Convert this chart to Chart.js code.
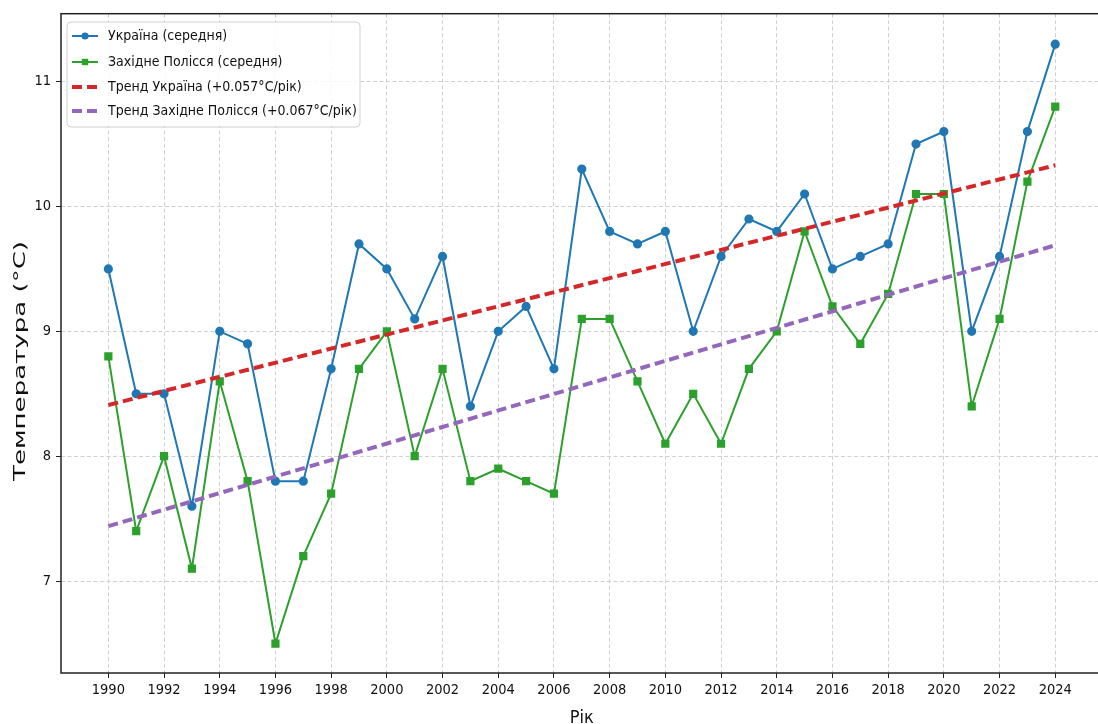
<!DOCTYPE html>
<html>
<head>
<meta charset="utf-8">
<script src="https://cdn.jsdelivr.net/npm/chart.js@4.4.1/dist/chart.umd.min.js"></script>
<style>
  html, body { margin: 0; padding: 0; background: #fff; overflow: hidden; }
  #c { display: block; }
</style>
</head>
<body>
<canvas id="c" width="1109" height="730"></canvas>
<script>
// Роки та середні температури
const years = [1990, 1991, 1992, 1993, 1994, 1995, 1996, 1997, 1998, 1999,
               2000, 2001, 2002, 2003, 2004, 2005, 2006, 2007, 2008, 2009,
               2010, 2011, 2012, 2013, 2014, 2015, 2016, 2017, 2018, 2019,
               2020, 2021, 2022, 2023, 2024];
const ukraine = [9.5, 8.5, 8.5, 7.6, 9.0, 8.9, 7.8, 7.8, 8.7, 9.7,
                 9.5, 9.1, 9.6, 8.4, 9.0, 9.2, 8.7, 10.3, 9.8, 9.7,
                 9.8, 9.0, 9.6, 9.9, 9.8, 10.1, 9.5, 9.6, 9.7, 10.5,
                 10.6, 9.0, 9.6, 10.6, 11.3];
const polissia = [8.8, 7.4, 8.0, 7.1, 8.6, 7.8, 6.5, 7.2, 7.7, 8.7,
                  9.0, 8.0, 8.7, 7.8, 7.9, 7.8, 7.7, 9.1, 9.1, 8.6,
                  8.1, 8.5, 8.1, 8.7, 9.0, 9.8, 9.2, 8.9, 9.3, 10.1,
                  10.1, 8.4, 9.1, 10.2, 10.8];

// Тренди (кінцеві точки)
const trendYears = [1990, 2024];
const trendUkraine = [8.41, 10.33];
const trendPolissia = [7.44, 9.69];

// Підписи
const labels = ['Україна (середня)', 'Західне Полісся (середня)',
                'Тренд Україна (+0.057°C/рік)', 'Тренд Західне Полісся (+0.067°C/рік)'];
const xTicks = [1990, 1992, 1994, 1996, 1998, 2000, 2002, 2004, 2006, 2008,
                2010, 2012, 2014, 2016, 2018, 2020, 2022, 2024];
const yTicks = [7, 8, 9, 10, 11];
const xTitle = 'Рік';
const yTitle = 'Температура (°C)';

const narrow = "'DejaVu Sans Condensed', 'Liberation Sans Narrow', 'DejaVu Sans', sans-serif";

const pts = (xs, ys) => xs.map((x, i) => ({ x: x, y: ys[i] }));

// рамка, легенда, підпис осі Y
const extras = {
    id: 'extras',
    afterDraw(chart) {
        const ctx = chart.ctx;
        const a = chart.chartArea;
        ctx.save();
        ctx.strokeStyle = '#222';
        ctx.lineWidth = 1.5;
        ctx.strokeRect(a.left, a.top, a.right - a.left, a.bottom - a.top);

        // легенда
        const bx = 67, by = 22, bw = 293, bh = 105;
        ctx.beginPath();
        ctx.roundRect(bx, by, bw, bh, 4);
        ctx.fillStyle = 'rgba(255,255,255,0.85)';
        ctx.fill();
        ctx.strokeStyle = '#d0d0d0';
        ctx.lineWidth = 1;
        ctx.stroke();
        const rows = [36, 62, 87, 111];
        chart.data.datasets.forEach((ds, i) => {
            const y = rows[i];
            ctx.save();
            ctx.strokeStyle = ds.borderColor;
            ctx.lineWidth = ds.borderWidth;
            ctx.setLineDash(ds.borderDash || []);
            ctx.beginPath();
            ctx.moveTo(72, y);
            ctx.lineTo(98, y);
            ctx.stroke();
            ctx.restore();
            if (ds.pointRadius > 0) {
                ctx.fillStyle = ds.borderColor;
                if (ds.pointStyle === 'rect') {
                    ctx.fillRect(85 - 3.2, y - 3.2, 6.4, 6.4);
                } else {
                    ctx.beginPath();
                    ctx.arc(85, y, 3.6, 0, Math.PI * 2);
                    ctx.fill();
                }
            }
            ctx.fillStyle = '#111';
            ctx.font = '14px ' + narrow;
            ctx.textBaseline = 'middle';
            ctx.textAlign = 'left';
            ctx.fillText(ds.label, 108, y);
        });

        // підпис осі Y
        ctx.font = '15px "DejaVu Sans", sans-serif';
        const w = ctx.measureText(yTitle).width;
        ctx.translate(25, 361);
        ctx.rotate(-Math.PI / 2);
        ctx.scale(240 / w, 1);
        ctx.fillStyle = '#111';
        ctx.textAlign = 'center';
        ctx.textBaseline = 'alphabetic';
        ctx.fillText(yTitle, 0, 0);
        ctx.restore();
    }
};

new Chart(document.getElementById('c'), {
    type: 'line',
    data: {
        datasets: [{
            label: labels[0],
            data: pts(years, ukraine),
            borderColor: '#1f77b4',
            backgroundColor: '#1f77b4',
            borderWidth: 2,
            pointRadius: 3.6,
            pointStyle: 'circle',
            order: 4
        }, {
            label: labels[1],
            data: pts(years, polissia),
            borderColor: '#2ca02c',
            backgroundColor: '#2ca02c',
            borderWidth: 2,
            pointRadius: 4.4,
            pointStyle: 'rect',
            order: 3
        }, {
            label: labels[2],
            data: pts(trendYears, trendUkraine),
            borderColor: '#d62728',
            borderWidth: 4,
            borderDash: [10, 5],
            pointRadius: 0,
            order: 2
        }, {
            label: labels[3],
            data: pts(trendYears, trendPolissia),
            borderColor: '#9467bd',
            borderWidth: 4,
            borderDash: [10, 5],
            pointRadius: 0,
            order: 1
        }]
    },
    options: {
        responsive: false,
        animation: false,
        devicePixelRatio: 1,
        layout: { padding: { left: 0, top: 13, right: 0, bottom: 0 } },
        plugins: {
            legend: { display: false },
            tooltip: { enabled: false }
        },
        elements: { line: { tension: 0, fill: false } },
        scales: {
            x: {
                type: 'linear',
                min: 1988.3,
                max: 2025.7,
                afterBuildTicks: s => { s.ticks = xTicks.map(v => ({ value: v })); },
                afterFit: s => { s.height = 57; },
                grid: {
                    color: '#d0d0d0',
                    tickColor: '#222',
                    tickLength: 5,
                    tickBorderDash: []
                },
                border: { display: false, dash: [4, 2.5] },
                ticks: {
                    color: '#111',
                    font: { family: narrow, size: 14.5 },
                    padding: 4,
                    maxRotation: 0,
                    autoSkip: false,
                    callback: v => String(v)
                },
                title: {
                    display: true,
                    text: xTitle,
                    color: '#111',
                    font: { family: narrow, size: 18 },
                    padding: { top: 0, bottom: 1 }
                }
            },
            y: {
                min: 6.264,
                max: 11.544,
                afterBuildTicks: s => { s.ticks = yTicks.map(v => ({ value: v })); },
                afterFit: s => { s.width = 61; },
                grid: {
                    color: '#d0d0d0',
                    tickColor: '#222',
                    tickLength: 5,
                    tickBorderDash: []
                },
                border: { display: false, dash: [4, 2.5] },
                ticks: {
                    color: '#111',
                    font: { family: narrow, size: 14.5 },
                    padding: 5,
                    callback: v => String(v)
                }
            }
        }
    },
    plugins: [extras]
});
</script>
</body>
</html>
